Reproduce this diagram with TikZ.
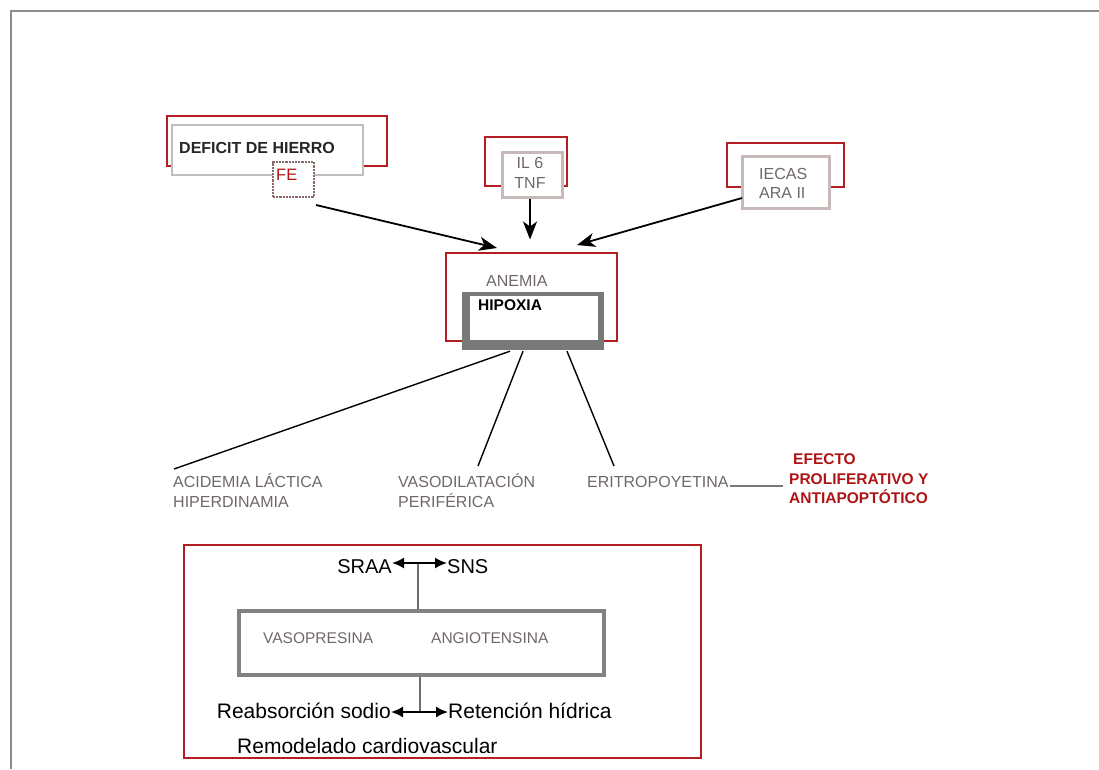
\documentclass[tikz,border=0pt]{standalone}
\usepackage{fontspec}
\setmainfont{Liberation Sans}
\usetikzlibrary{arrows.meta,calc}
\definecolor{redline}{RGB}{180,30,35}
\definecolor{lightgray}{RGB}{190,190,190}
\definecolor{pinkgray}{RGB}{200,185,185}
\definecolor{hipogray}{RGB}{120,120,120}
\definecolor{boxgray}{RGB}{130,130,130}
\definecolor{txtgray}{RGB}{112,104,104}
\definecolor{txtred}{RGB}{175,20,20}
\definecolor{framegray}{RGB}{140,140,140}
\definecolor{stemgray}{RGB}{120,105,105}
\definecolor{fegray}{RGB}{140,105,105}
\tikzset{
  redbox/.style={draw=redline,line width=2pt,fill=white,inner sep=0pt},
  graybox/.style={draw=lightgray,line width=2pt,fill=white,inner sep=0pt},
  pinkbox/.style={draw=pinkgray,line width=3pt,fill=white,inner sep=0pt},
  lbl/.style={inner sep=0pt,anchor=base west},
  graytxt/.style={lbl,text=txtgray,font=\fontsize{16}{18}\selectfont},
  redtxt/.style={lbl,text=txtred,font=\fontsize{15.5}{18}\selectfont\bfseries},
  bigtxt/.style={lbl,text=black,font=\fontsize{21}{24}\selectfont},
  inarrow/.style={line width=1.8pt,-{Stealth[length=18pt,width=14pt,inset=5pt]}},
  outline/.style={line width=1.4pt},
  dbl/.style={line width=1.8pt,{Latex[length=12pt,width=11pt]}-{Latex[length=12pt,width=11pt]}},
}
\begin{document}
\begin{tikzpicture}[x=1pt,y=-1pt]
\useasboundingbox (0,0) rectangle (1099,769);
% outer frame
\draw[framegray,line width=2.5pt] (11,769) -- (11,11) -- (1099,11);

% DEFICIT DE HIERRO group
\node[redbox,minimum width=220pt,minimum height=50pt] (defred) at (277,141) {};
\node[graybox,minimum width=191pt,minimum height=50pt] (defgray) at (267.5,150) {};
\node[lbl,font=\fontsize{16}{18}\selectfont\bfseries,text=black!85] (deftxt) at (179,153) {DEFICIT DE HIERRO};
\node[draw=fegray,densely dotted,line width=2.2pt,fill=white,inner sep=0pt,minimum width=41pt,minimum height=35pt] (fe) at (293.5,179.5) {};
\node[lbl,text=txtred,font=\fontsize{16.5}{18}\selectfont] (fetxt) at (276,180) {FE};

% IL 6 / TNF group
\node[redbox,minimum width=82pt,minimum height=49pt] (ilred) at (526,161.5) {};
\node[pinkbox,minimum width=60pt,minimum height=45pt] (il) at (532,174.5) {};
\node[graytxt,anchor=base] (iltxt) at (530,168) {IL 6};
\node[graytxt,anchor=base] (tnftxt) at (530,188) {TNF};

% IECAS / ARA II group
\node[redbox,minimum width=117pt,minimum height=44pt] (iered) at (785.5,165) {};
\node[pinkbox,minimum width=87pt,minimum height=52pt] (ie) at (785.5,182) {};
\node[graytxt] (ietxt) at (759,179) {IECAS};
\node[graytxt] (aratxt) at (759,198) {ARA II};

% ANEMIA / HIPOXIA
\node[redbox,minimum width=171pt,minimum height=88pt] (anemia) at (531.5,297) {};
\node[graytxt] (anemiatxt) at (486,286) {ANEMIA};
\node[fill=hipogray,inner sep=0pt,minimum width=142pt,minimum height=58pt] (hipo) at (533,321) {};
\fill[white] ($(hipo.north west)+(8,4)$) rectangle ($(hipo.south east)+(-6,-10)$);
\node[lbl,font=\fontsize{15.5}{18}\selectfont\bfseries] (hipotxt) at (478,310.5) {HIPOXIA};

% arrows into ANEMIA
\coordinate (a1s) at (316,205);
\coordinate (a1e) at (497,248);
\coordinate (a3s) at (742,198);
\coordinate (a3e) at (577,245);
\draw[inarrow] (a1s) -- (a1e);
\draw[inarrow] (il.south -| iltxt.base) -- ++(0,41);
\draw[inarrow] (a3s) -- (a3e);

% consequences
\node[graytxt] (acid) at (173,487) {ACIDEMIA LÁCTICA};
\node[graytxt] (hiper) at (173,507) {HIPERDINAMIA};
\node[graytxt] (vaso) at (398,487) {VASODILATACIÓN};
\node[graytxt] (perif) at (398,507) {PERIFÉRICA};
\node[graytxt] (eritro) at (587,487) {ERITROPOYETINA};
\node[redtxt] (efecto) at (793,464) {EFECTO};
\node[redtxt] (prolif) at (789,484) {PROLIFERATIVO Y};
\node[redtxt] (antiap) at (789,503) {ANTIAPOPTÓTICO};

\coordinate (l1e) at (174,469);
\coordinate (l2e) at (478,466);
\coordinate (l3e) at (614,466);
\coordinate (lineend) at (783,486);
\draw[outline] ($(hipo.south)+(-23,1)$) -- (l1e);
\draw[outline] ($(hipo.south)+(-10,1)$) -- (l2e);
\draw[outline] ($(hipo.south)+(34,1)$) -- (l3e);
\draw[hipogray,line width=1.5pt] (eritro.base east |- lineend) ++(1,0) -- (lineend);

% lower box
\node[draw=redline,line width=1.6pt,inner sep=0pt,minimum width=517pt,minimum height=213pt] (lower) at (442.5,651.5) {};
\node[draw=boxgray,line width=4pt,inner sep=0pt,minimum width=365pt,minimum height=64pt] (hormon) at (421.5,643) {};
\node[graytxt,font=\fontsize{15.5}{18}\selectfont] (vasop) at (263,643) {VASOPRESINA};
\node[graytxt,font=\fontsize{15.5}{18}\selectfont] (angio) at (431,643) {ANGIOTENSINA};

\coordinate (stemtop) at (418,563);
\coordinate (stembot) at (420,712);
\node[bigtxt,anchor=base east,font=\fontsize{20}{24}\selectfont] (sraa) at (392,573) {SRAA};
\node[bigtxt,font=\fontsize{20}{24}\selectfont] (sns) at (447,573) {SNS};
\node[bigtxt,anchor=base east] (reab) at (391,718) {Reabsorción sodio};
\node[bigtxt] (reten) at (448,718) {Retención hídrica};
\node[bigtxt] (remod) at (237,753) {Remodelado cardiovascular};

\draw[stemgray,line width=1.8pt] (hormon.north -| stemtop) -- (stemtop);
\draw[stemgray,line width=1.8pt] (hormon.south -| stembot) -- (stembot);
\draw[dbl] (sraa.east |- stemtop) -- (sns.west |- stemtop);
\draw[dbl] (reab.east |- stembot) -- (reten.west |- stembot);
\end{tikzpicture}
\end{document}
